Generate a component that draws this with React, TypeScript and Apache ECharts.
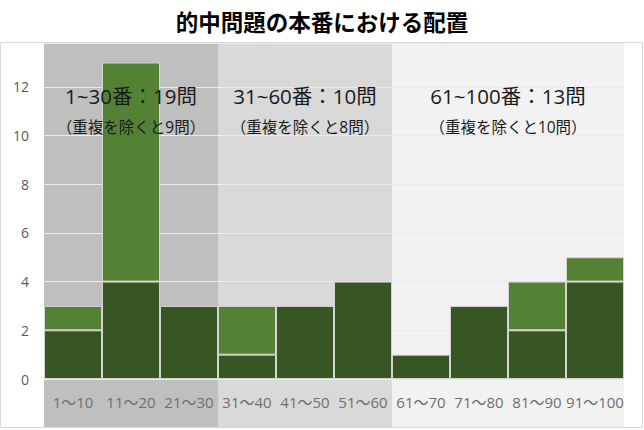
import React, { useEffect, useRef } from "react";
import * as echarts from "echarts";

const categories = ["1～10", "11～20", "21～30", "31～40", "41～50", "51～60", "61～70", "71～80", "81～90", "91～100"];
const uniqueCounts = [2, 4, 3, 1, 3, 4, 1, 3, 2, 4];
const duplicateCounts = [1, 9, 0, 2, 0, 0, 0, 0, 2, 1];
// bands: [first category index, last category index]
const bandRanges = [
  [0, 2],
  [3, 5],
  [6, 9],
];
const bandColors = ["#bfbfbf", "#d9d9d9", "#f2f2f2"];
const bandTitles = ["1~30番：19問", "31~60番：10問", "61~100番：13問"];
const bandSubtitles = ["（重複を除くと9問）", "（重複を除くと8問）", "（重複を除くと10問）"];
const yTicks = [0, 2, 4, 6, 8, 10, 12];

const FONT = "'Noto Sans CJK JP', 'Noto Sans', sans-serif";
const MIXED = "'Open Sans', 'Noto Sans CJK JP', sans-serif";

export default function App() {
  const ref = useRef<HTMLDivElement>(null);

  useEffect(() => {
    if (!ref.current) return;
    const chart = echarts.init(ref.current, undefined, { renderer: "svg" });

    const bandData = bandRanges.map((r, i) => ({ value: [r[0], r[1]], itemStyle: { color: bandColors[i] } }));
    const labelData = bandRanges.map((r, i) => ({ value: [r[0], r[1]], name: String(i) }));

    const option: any = {
      animation: false,
      backgroundColor: "#ffffff",
      title: {
        text: "的中問題の本番における配置",
        left: "center",
        top: 5,
        textStyle: { fontFamily: FONT, fontSize: 22.5, fontWeight: "bold", color: "#000000" },
      },
      graphic: [
        {
          type: "rect",
          z: 0,
          silent: true,
          shape: { x: 0.5, y: 42.5, width: 642, height: 385 },
          style: { fill: "none", stroke: "#d9d9d9", lineWidth: 1 },
        },
      ],
      grid: { left: 44, right: 20, top: 43, bottom: 51 },
      xAxis: {
        type: "category",
        data: categories,
        z: 2,
        axisLine: { show: false },
        axisTick: { show: false },
        axisLabel: { color: "#6f6f6f", fontSize: 15, fontFamily: MIXED, margin: 15, interval: 0 },
      },
      yAxis: {
        type: "value",
        min: 0,
        max: 13.8,
        interval: 2,
        z: 2,
        axisLine: { show: false },
        axisTick: { show: false },
        splitLine: { lineStyle: { color: "#ebebeb", width: 1 } },
        axisLabel: {
          color: "#595959",
          fontSize: 14,
          fontFamily: MIXED,
          margin: 15,
          formatter: (v: number) => (yTicks.indexOf(v) >= 0 ? String(v) : ""),
        },
      },
      series: [
        {
          type: "custom",
          z: 1,
          silent: true,
          encode: { x: [0, 1] },
          data: bandData,
          renderItem: (params: any, api: any) => {
            const bw = api.size([1, 0])[0];
            const x0 = api.coord([api.value(0), 0])[0] - bw / 2;
            const x1 = api.coord([api.value(1), 0])[0] + bw / 2;
            const cs = params.coordSys;
            return {
              type: "rect",
              shape: { x: x0, y: cs.y, width: x1 - x0, height: cs.height + 48 },
              style: { fill: api.visual("color") },
            };
          },
        },
        {
          type: "bar",
          name: "unique",
          stack: "total",
          z: 3,
          barCategoryGap: 0,
          data: uniqueCounts,
          itemStyle: { color: "#375623", borderColor: "#d4d4d4", borderWidth: 1 },
        },
        {
          type: "bar",
          name: "duplicate",
          stack: "total",
          z: 3,
          barCategoryGap: 0,
          data: duplicateCounts.map((v) => (v === 0 ? "-" : v)),
          itemStyle: { color: "#548235", borderColor: "#d4d4d4", borderWidth: 1 },
        },
        {
          type: "custom",
          z: 5,
          silent: true,
          encode: { x: [0, 1] },
          data: labelData,
          renderItem: (params: any, api: any) => {
            const idx = params.dataIndex;
            const cx = (api.coord([api.value(0), 0])[0] + api.coord([api.value(1), 0])[0]) / 2;
            const cs = params.coordSys;
            return {
              type: "group",
              children: [
                {
                  type: "text",
                  style: {
                    text: bandTitles[idx],
                    x: cx,
                    y: cs.y + 53,
                    align: "center",
                    verticalAlign: "middle",
                    fontSize: 20.5,
                    fontFamily: MIXED,
                    fill: "#1a1a1a",
                  },
                },
                {
                  type: "text",
                  style: {
                    text: bandSubtitles[idx],
                    x: cx,
                    y: cs.y + 84,
                    align: "center",
                    verticalAlign: "middle",
                    fontSize: 15.5,
                    fontFamily: MIXED,
                    fill: "#1a1a1a",
                  },
                },
              ],
            };
          },
        },
      ],
    };

    chart.setOption(option);
    return () => chart.dispose();
  }, []);

  return <div ref={ref} style={{ position: "fixed", left: 0, top: 0, width: 644, height: 430 }} />;
}
